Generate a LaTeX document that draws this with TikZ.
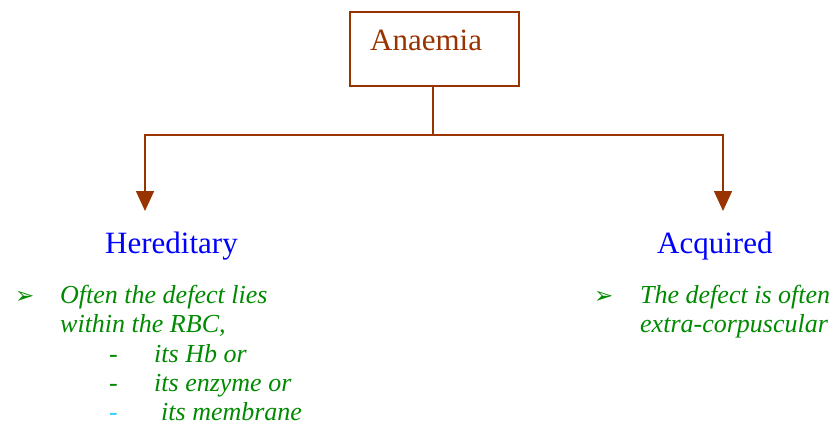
\documentclass[tikz,border=0pt]{standalone}
\usepackage{fontspec}
\setmainfont{Liberation Serif}
\newfontfamily\symfont{DejaVu Sans}
\usetikzlibrary{arrows.meta}
\definecolor{brn}{HTML}{993300}
\definecolor{blu}{HTML}{0000FF}
\definecolor{grn}{HTML}{008A00}
\definecolor{cyn}{HTML}{33CCFF}
\begin{document}
\begin{tikzpicture}[x=1pt,y=-1pt,
  conn/.style={draw=brn,line width=1.6pt},
  arr/.style={conn,-{Triangle[width=18pt,length=20pt]}},
  head/.style={font=\fontsize{31}{34}\selectfont,anchor=base west,inner sep=0pt},
  body/.style={font=\fontsize{26}{29}\selectfont\itshape,text=grn,anchor=base west,inner sep=0pt},
  bul/.style={font=\symfont\fontsize{23}{26}\selectfont,text=grn,anchor=base west,inner sep=0pt}]
\path[use as bounding box,fill=white] (0,0) rectangle (831,428);
\node[draw=brn,line width=1.6pt,minimum width=169pt,minimum height=74pt,anchor=north west] (box) at (349,11) {};
\node[head,text=brn] (an) at (370,51) {Anaemia};
\coordinate (j) at (433,135);
\coordinate (l) at (145,135);
\coordinate (r) at (723,135);
\coordinate (lt) at (145,211);
\coordinate (rt) at (723,211);
\draw[conn] (box.south -| j) -- (j);
\draw[arr] (j) -- (l) -- (lt);
\draw[arr] (j) -- (r) -- (rt);
\node[head,text=blu] (her) at (105,253) {Hereditary};
\node[head,text=blu] (acq) at (657,253) {Acquired};
\node[bul] (b1) at (15,303) {➢};
\node[body] (t1) at (60,303) {Often the defect lies};
\node[body] (t2) at (60,332) {within the RBC,};
\node[body] (d1) at (109,362) {-};
\node[body] (t3) at (154,362) {its Hb or};
\node[body] (d2) at (109,391) {-};
\node[body] (t4) at (154,391) {its enzyme or};
\node[body,text=cyn] (d3) at (109,420) {-};
\node[body] (t5) at (161,420) {its membrane};
\node[bul] (b2) at (594,303) {➢};
\node[body] (t6) at (640,303) {The defect is often};
\node[body] (t7) at (640,332) {extra-corpuscular};
\end{tikzpicture}
\end{document}
